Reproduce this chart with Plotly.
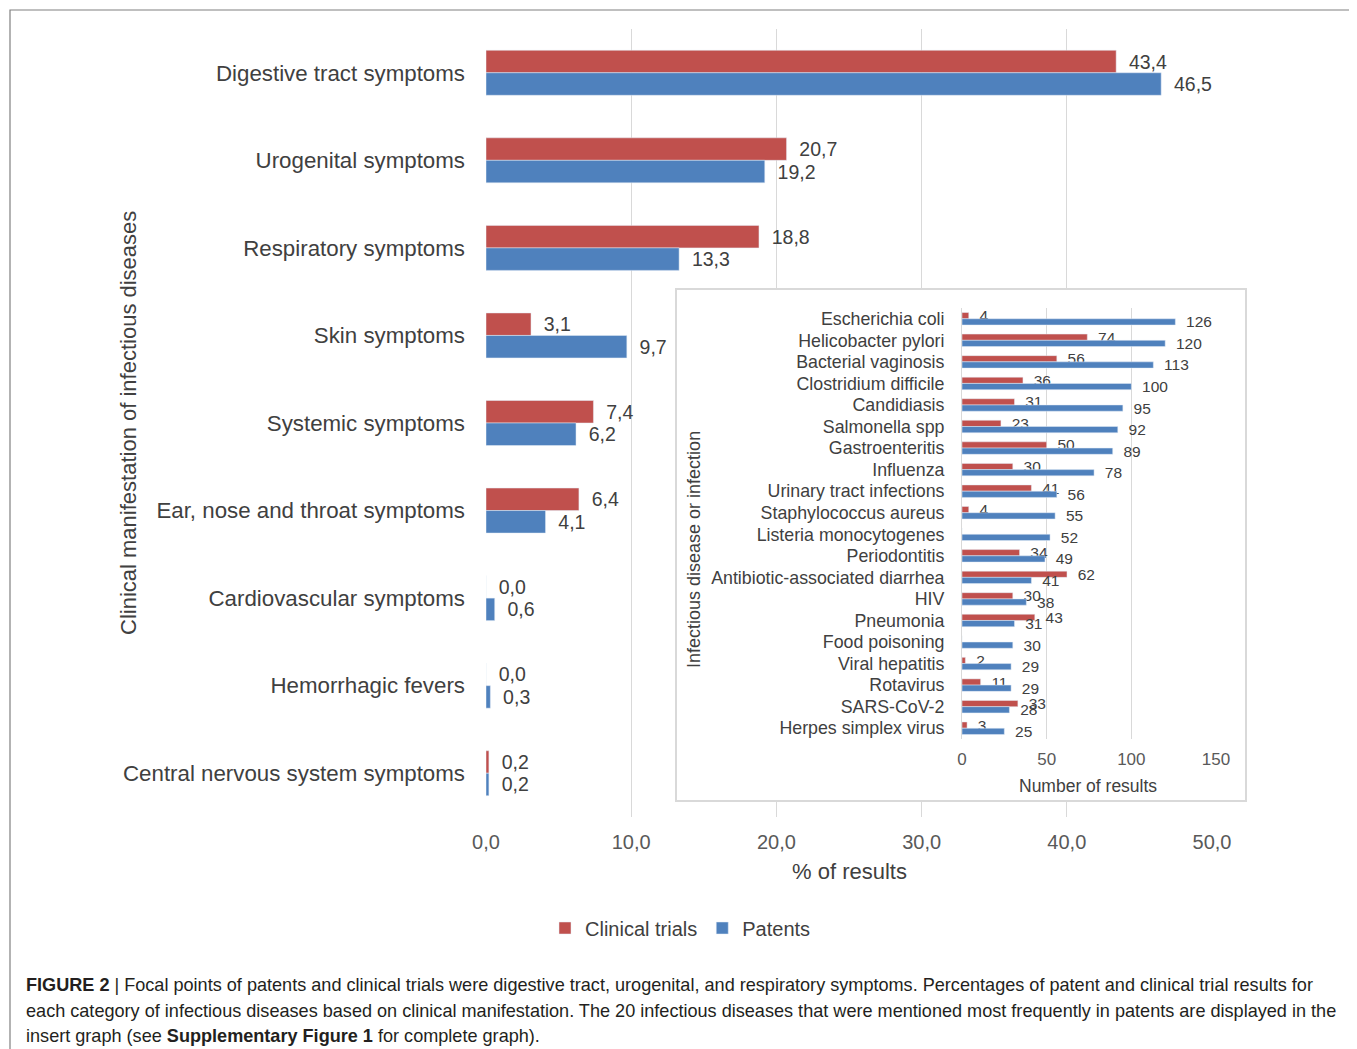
import plotly.graph_objects as go

# ---------------- data ----------------
categories = ["Digestive tract symptoms", "Urogenital symptoms", "Respiratory symptoms",
              "Skin symptoms", "Systemic symptoms", "Ear, nose and throat symptoms",
              "Cardiovascular symptoms", "Hemorrhagic fevers", "Central nervous system symptoms"]
clinical_pct = [43.4, 20.7, 18.8, 3.1, 7.4, 6.4, 0.0, 0.0, 0.2]
patents_pct = [46.5, 19.2, 13.3, 9.7, 6.2, 4.1, 0.6, 0.3, 0.2]
main_ticks = [0, 10, 20, 30, 40, 50]

diseases = ["Escherichia coli", "Helicobacter pylori", "Bacterial vaginosis", "Clostridium difficile",
            "Candidiasis", "Salmonella spp", "Gastroenteritis", "Influenza", "Urinary tract infections",
            "Staphylococcus aureus", "Listeria monocytogenes", "Periodontitis",
            "Antibiotic-associated diarrhea", "HIV", "Pneumonia", "Food poisoning", "Viral hepatitis",
            "Rotavirus", "SARS-CoV-2", "Herpes simplex virus"]
clinical_n = [4, 74, 56, 36, 31, 23, 50, 30, 41, 4, 0, 34, 62, 30, 43, 0, 2, 11, 33, 3]
patents_n = [126, 120, 113, 100, 95, 92, 89, 78, 56, 55, 52, 49, 41, 38, 31, 30, 29, 29, 28, 25]
inset_ticks = [0, 50, 100, 150]

RED = "#c0504d"
BLUE = "#4f81bd"
GRID = "#d9d9d9"
TXT = "#404040"
FONT = "Liberation Sans, Arial, sans-serif"

# page geometry: the browser body adds an 8px margin, so work in page pixels
OFF = 8
W, H = 1357 - OFF, 1049 - OFF
L, R, T, B = 486, 1245, 29, 817          # plot-area edges in page pixels
def px(x):
    return (x - L) / (R - L)
def py(y):
    return (B - y) / (B - T)

fig = go.Figure()

mw = 0.257
for name, vals, col, off in [("Clinical trials", clinical_pct, RED, -mw),
                             ("Patents", patents_pct, BLUE, 0)]:
    fig.add_trace(go.Bar(y=categories, x=vals, orientation="h", name=name,
                         marker_color=col, width=mw, offset=off,
                         texttemplate="\u2002%{x:.1f}", textposition="outside",
                         constraintext="none",
                         textfont=dict(size=19.5, color=TXT, family=FONT), cliponaxis=False,
                         hoverinfo="x+y", xaxis="x", yaxis="y"))

# dummy subplot providing the inset's white box and border
fig.add_trace(go.Scatter(x=[None], y=[None], xaxis="x2", yaxis="y2", showlegend=False,
                         hoverinfo="skip"))

iw = 0.29
fig.add_trace(go.Bar(y=diseases, x=clinical_n, orientation="h", name="Clinical trials",
                     marker_color=RED, width=iw, offset=-iw, showlegend=False,
                     text=[("\u2002" + str(v)) if v else "" for v in clinical_n],
                     texttemplate="%{text}", textposition="outside", constraintext="none",
                     textfont=dict(size=15.5, color=TXT, family=FONT), cliponaxis=False,
                     xaxis="x3", yaxis="y3"))
fig.add_trace(go.Bar(y=diseases, x=patents_n, orientation="h", name="Patents",
                     marker_color=BLUE, width=iw, offset=0, showlegend=False,
                     text=["\u2002" + str(v) for v in patents_n],
                     texttemplate="%{text}", textposition="outside", constraintext="none",
                     textfont=dict(size=15.5, color=TXT, family=FONT), cliponaxis=False,
                     xaxis="x3", yaxis="y3"))

fig.update_layout(
    width=W, height=H,
    margin=dict(l=L - OFF, r=W + OFF - R, t=T - OFF, b=H + OFF - B, pad=0),
    paper_bgcolor="white", plot_bgcolor="white",
    barmode="overlay",
    separators=", ",
    font=dict(family=FONT, color=TXT),
    showlegend=True,
    legend=dict(orientation="h", x=px(545), y=py(928), xanchor="left", yanchor="middle",
                font=dict(size=20, color=TXT), traceorder="normal"),
    xaxis=dict(domain=[0, px(1212)], range=[0, 50], tickvals=main_ticks, tickformat=".1f",
               showgrid=True, gridcolor=GRID, gridwidth=1, zeroline=False, showline=False,
               ticks="", ticklabelstandoff=11, tickfont=dict(size=20, color="#595959"),
               anchor="y"),
    yaxis=dict(domain=[0, 1], range=[8.5, -0.5], type="category", showgrid=False,
               zeroline=False, showline=False, ticks="", ticklabelstandoff=20,
               tickfont=dict(size=22.3, color=TXT), anchor="x"),
    xaxis2=dict(domain=[px(677), px(1245)], range=[0, 1], showgrid=False, zeroline=False,
                showticklabels=False, showline=True, mirror=True, linecolor=GRID, linewidth=2,
                ticks="", anchor="y2"),
    yaxis2=dict(domain=[py(800), py(290)], range=[0, 1], showgrid=False, zeroline=False,
                showticklabels=False, showline=True, mirror=True, linecolor=GRID, linewidth=2,
                ticks="", anchor="x2"),
    xaxis3=dict(domain=[px(962), px(1216)], range=[0, 150], tickvals=inset_ticks,
                showgrid=True, gridcolor=GRID, zeroline=False, showline=False, ticks="",
                ticklabelstandoff=8, tickfont=dict(size=17, color="#595959"), anchor="y3"),
    yaxis3=dict(domain=[py(739), py(308)], range=[19.5, -0.5], type="category",
                showgrid=False, zeroline=False, showline=True, linecolor=GRID, linewidth=1,
                ticks="", ticklabelstandoff=13, tickfont=dict(size=17.8, color=TXT), anchor="x3"),
)

annotations = [
    dict(text="% of results", x=px(849), y=py(871), font=dict(size=22, color=TXT)),
    dict(text="Clinical manifestation of infectious diseases", x=px(128), y=py(423),
         textangle=-90, font=dict(size=22, color=TXT)),
    dict(text="Number of results", x=px(1088), y=py(786), font=dict(size=17.5, color=TXT)),
    dict(text="Infectious disease or infection", x=px(694), y=py(550), textangle=-90,
         font=dict(size=18, color=TXT)),
]
for a in annotations:
    a.update(xref="paper", yref="paper", xanchor="center", yanchor="middle", showarrow=False)

caption_lines = [
    "<b>FIGURE 2</b> | Focal points of patents and clinical trials were digestive tract, urogenital, and respiratory symptoms. Percentages of patent and clinical trial results for",
    "each category of infectious diseases based on clinical manifestation. The 20 infectious diseases that were mentioned most frequently in patents are displayed in the",
    "insert graph (see <b>Supplementary Figure 1</b> for complete graph).",
]
for line, yy in zip(caption_lines, [985, 1011, 1036]):
    annotations.append(dict(text=line, xref="paper", yref="paper", x=px(24), y=py(yy),
                            xanchor="left", yanchor="middle", showarrow=False,
                            font=dict(size=18.1, color="#231f20", family=FONT)))
fig.update_layout(annotations=annotations)

fig.add_shape(type="rect", xref="paper", yref="paper", x0=px(10), x1=px(1355), y0=py(1070),
              y1=py(10), line=dict(color="#808080", width=1.2), fillcolor="rgba(0,0,0,0)",
              layer="above")

fig.write_html("out.html")
